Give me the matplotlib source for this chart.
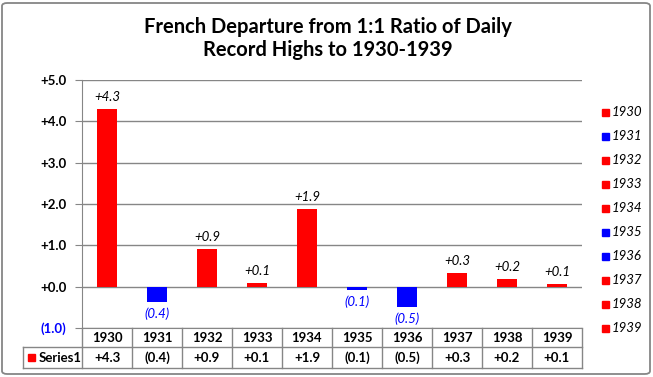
import matplotlib.pyplot as plt
from matplotlib.patches import Rectangle, FancyBboxPatch
from matplotlib.lines import Line2D

years = ['1930', '1931', '1932', '1933', '1934', '1935', '1936', '1937', '1938', '1939']
values = [4.3, -0.37, 0.91, 0.09, 1.88, -0.08, -0.49, 0.33, 0.19, 0.07]
labels = ['+4.3', '(0.4)', '+0.9', '+0.1', '+1.9', '(0.1)', '(0.5)', '+0.3', '+0.2', '+0.1']
yticks = [-1, 0, 1, 2, 3, 4, 5]
ytick_labels = ['(1.0)', '+0.0', '+1.0', '+2.0', '+3.0', '+4.0', '+5.0']

plt.rcParams['font.family'] = ['Lato', 'DejaVu Sans']
W, H = 653, 377
fig = plt.figure(figsize=(W / 100, H / 100), dpi=100)

# outer border
fig.patches.append(FancyBboxPatch((2 / W, 3 / H), 648 / W, 371 / H,
                                  boxstyle='round,pad=0,rounding_size=0.008',
                                  transform=fig.transFigure, fill=False,
                                  edgecolor='#868686', lw=1.3))

x0, x1, ytop, ybot = 82, 582, 80, 328
ax = fig.add_axes([x0 / W, 1 - ybot / H, (x1 - x0) / W, (ybot - ytop) / H])
colors = ['red' if v >= 0 else 'blue' for v in values]
xs = range(len(years))
ax.bar(xs, values, width=0.4, color=colors, zorder=3)
ax.set_xlim(-0.5, len(years) - 0.5)
ax.set_ylim(-1, 5)
ax.set_yticks(yticks)
ax.set_yticklabels(ytick_labels, fontsize=9.5, fontweight='bold')
for t, v in zip(ax.get_yticklabels(), yticks):
    t.set_color('blue' if v < 0 else 'black')
ax.tick_params(axis='y', length=5, color='#868686', pad=6)
ax.set_xticks([])
ax.grid(axis='y', color='#868686', lw=1, zorder=0)
for s in ['top', 'right']:
    ax.spines[s].set_visible(False)
ax.spines['left'].set_color('#868686')
ax.spines['bottom'].set_color('#868686')

for x, v, lab in zip(xs, values, labels):
    if v >= 0:
        ax.annotate(lab, (x, v), xytext=(0, 4), textcoords='offset points',
                    ha='center', va='bottom', style='italic', fontsize=9.5, color='black')
    else:
        ax.annotate(lab, (x, v), xytext=(0, -4), textcoords='offset points',
                    ha='center', va='top', style='italic', fontsize=9.5, color='blue')

# data table below the axes
def fx(px):
    return px / W

def fy(py):
    return 1 - py / H

gray = '#868686'
r1, r2, r3 = 328, 347, 368
for py, left in [(r2, 23), (r3, 23)]:
    fig.add_artist(Line2D([fx(left), fx(x1)], [fy(py), fy(py)], color=gray, lw=1))
for k in range(len(years) + 1):
    px = x0 + 50 * k
    fig.add_artist(Line2D([fx(px), fx(px)], [fy(r1), fy(r3)], color=gray, lw=1))
fig.add_artist(Line2D([fx(23), fx(23)], [fy(r2), fy(r3)], color=gray, lw=1))
for k, (yr, lab) in enumerate(zip(years, labels)):
    cx = x0 + 50 * k + 25
    fig.text(fx(cx), fy((r1 + r2) / 2), yr, ha='center', va='center',
             fontsize=9.5, fontweight='bold')
    fig.text(fx(cx), fy((r2 + r3) / 2), lab, ha='center', va='center',
             fontsize=9.5, fontweight='bold')
fig.patches.append(Rectangle((fx(28), fy(361)), 7 / W, 7 / H, transform=fig.transFigure,
                             color='red'))
fig.text(fx(39), fy((r2 + r3) / 2), 'Series1', ha='left', va='center',
         fontsize=9.5, fontweight='bold')

# legend on the right
for k, (yr, c) in enumerate(zip(years, colors)):
    py = 112 + 24 * k
    fig.patches.append(Rectangle((fx(602), fy(py + 3.5)), 7 / W, 7 / H,
                                 transform=fig.transFigure, color=c))
    fig.text(fx(612), fy(py), yr, ha='left', va='center', style='italic', fontsize=9.5)

fig.text(fx(328), fy(27), 'French Departure from 1:1 Ratio of Daily', ha='center',
         va='center', fontsize=14.5, fontweight='bold')
fig.text(fx(328), fy(50), 'Record Highs to 1930-1939', ha='center',
         va='center', fontsize=14.5, fontweight='bold')

fig.savefig('out.png', dpi=100)
